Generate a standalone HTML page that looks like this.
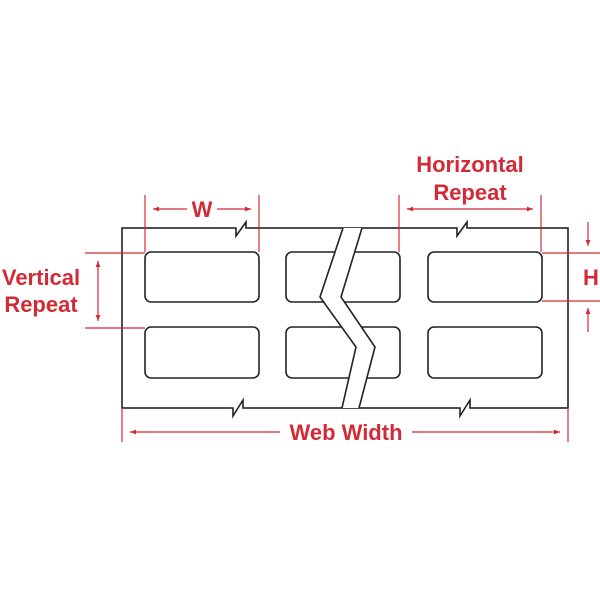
<!DOCTYPE html>
<html><head><style>body{margin:0;background:#fff}svg{display:block}</style></head>
<body>
<svg width="600" height="600" viewBox="0 0 600 600" xmlns="http://www.w3.org/2000/svg">
<defs>
<marker id="a" viewBox="0 0 10 10" refX="10" refY="5" markerWidth="8" markerHeight="6" orient="auto-start-reverse" markerUnits="userSpaceOnUse"><path d="M0,1 L10,5 L0,9 z" fill="#d42a36"/></marker>
</defs>
<g fill="none" stroke="#222" stroke-width="1.6">
<rect x="122" y="228" width="446" height="180"/>
<rect x="145" y="252" width="114" height="50" rx="6"/>
<rect x="145" y="327" width="114" height="51" rx="6"/>
<rect x="286" y="252" width="114" height="50" rx="6"/>
<rect x="286" y="327" width="114" height="51" rx="6"/>
<rect x="428" y="252" width="114" height="50" rx="6"/>
<rect x="428" y="327" width="114" height="51" rx="6"/>
</g>
<polygon points="343,228 320,297 356,347 342,408 359,408 375,347 341,297 362,228" fill="#fff" stroke="none"/>
<g fill="none" stroke="#222" stroke-width="1.6">
<polyline points="343,228 320,297 356,347 342,408"/>
<polyline points="362,228 341,297 375,347 359,408"/>
</g>
<g stroke="#222" stroke-width="1.6" fill="#fff">
<rect x="234" y="224" width="14" height="8" stroke="none"/>
<polyline points="234,228 236,228 236,236 246,222 246,228 248,228" fill="none"/>
<rect x="455" y="224" width="14" height="8" stroke="none"/>
<polyline points="455,228 457,228 457,236 467,222 467,228 469,228" fill="none"/>
<rect x="231" y="404" width="14" height="8" stroke="none"/>
<polyline points="231,408 233,408 233,416 243,400 243,408 245,408" fill="none"/>
<rect x="458" y="404" width="14" height="8" stroke="none"/>
<polyline points="458,408 460,408 460,416 470,400 470,408 472,408" fill="none"/>
</g>
<g stroke="#d42a36" stroke-width="1.2" fill="none">
<line x1="145" y1="195" x2="145" y2="252"/>
<line x1="259" y1="195" x2="259" y2="252"/>
<line x1="187" y1="209" x2="153" y2="209" marker-end="url(#a)"/>
<line x1="217" y1="209" x2="251" y2="209" marker-end="url(#a)"/>
<line x1="399" y1="195" x2="399" y2="252"/>
<line x1="541" y1="195" x2="541" y2="252"/>
<line x1="407" y1="209" x2="533" y2="209" marker-start="url(#a)" marker-end="url(#a)"/>
<line x1="542" y1="253" x2="600" y2="253"/>
<line x1="542" y1="301" x2="600" y2="301"/>
<line x1="588" y1="222" x2="588" y2="246" marker-end="url(#a)"/>
<line x1="588" y1="332" x2="588" y2="308" marker-end="url(#a)"/>
<line x1="85" y1="253" x2="145" y2="253"/>
<line x1="85" y1="328" x2="145" y2="328"/>
<line x1="98" y1="261" x2="98" y2="321" marker-start="url(#a)" marker-end="url(#a)"/>
<line x1="122" y1="408" x2="122" y2="442"/>
<line x1="568" y1="408" x2="568" y2="442"/>
<line x1="280" y1="432" x2="130" y2="432" marker-end="url(#a)"/>
<line x1="412" y1="432" x2="560" y2="432" marker-end="url(#a)"/>
</g>
<g fill="#d42a36" font-family="Liberation Sans, sans-serif" font-weight="bold" font-size="22" text-anchor="middle">
<text x="202" y="217">W</text>
<text x="470" y="172">Horizontal</text>
<text x="470" y="200">Repeat</text>
<text x="591" y="285">H</text>
<text x="41" y="285">Vertical</text>
<text x="41" y="312">Repeat</text>
<text x="346" y="440">Web Width</text>
</g>
</svg>
</body></html>
